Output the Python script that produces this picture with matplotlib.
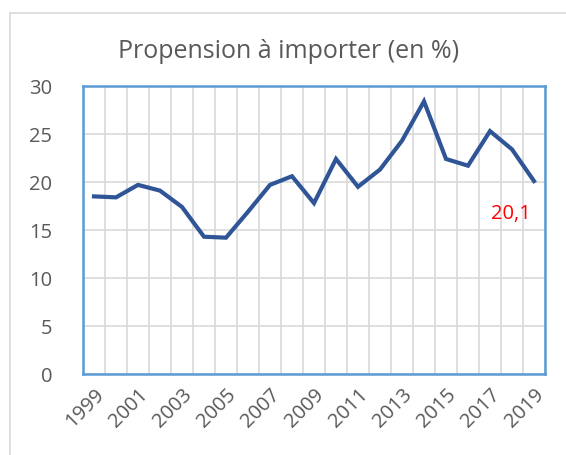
import numpy as np
import matplotlib
matplotlib.use('Agg')
import matplotlib.pyplot as plt

years = list(range(1999, 2020))
values = [18.5, 18.4, 19.7, 19.1, 17.4, 14.3, 14.2, 16.9, 19.7, 20.6, 17.8,
          22.4, 19.5, 21.3, 24.3, 28.4, 22.4, 21.7, 25.3, 23.4, 20.1]
y_ticks = [0, 5, 10, 15, 20, 25, 30]
title = 'Propension à importer (en %)'
last_label = '20,1'

plt.rcParams['font.family'] = ['Open Sans', 'DejaVu Sans']

fig = plt.figure(figsize=(5.66, 4.56), dpi=100)
ax = fig.add_axes([83/566, 1 - 375/456, (545-83)/566, (375-87)/456])

# outer chart frame
fig.patches.append(plt.Rectangle((10/566, -0.1), 1, 1 - 14/456 + 0.1,
                                 transform=fig.transFigure, fill=False,
                                 edgecolor='#D9D9D9', linewidth=1.2))

x = np.arange(len(years))
ax.plot(x, values, color='#2F5597', linewidth=3, solid_joinstyle='miter', zorder=3)

ax.set_xlim(-0.5, len(years) - 0.5)
ax.set_ylim(0, 30)
ax.set_yticks(y_ticks)
ax.set_xticks(x[::2])
ax.set_xticklabels([str(y) for y in years[::2]], rotation=45, ha='right',
                   rotation_mode='anchor')
ax.set_xticks(np.arange(-0.5, len(years)), minor=True)
ax.grid(True, which='minor', axis='x', color='#D9D9D9', linewidth=1.2)
ax.grid(True, which='major', axis='y', color='#D9D9D9', linewidth=1.2)
ax.tick_params(which='both', length=0, labelsize=14.5, colors='#595959')
ax.tick_params(axis='y', pad=22)
ax.tick_params(axis='x', pad=7)
for s in ax.spines.values():
    s.set_color('#5B9BD5')
    s.set_linewidth(1.8)

ax.text(x[-1] - 0.15, values[-1] - 2.3, last_label, color='#FF0000', fontsize=14.5,
        ha='right', va='top')

fig.text(0.51, 1 - 51/456, title, ha='center', va='center', fontsize=18,
         color='#595959')

fig.savefig('out.png', dpi=100)
